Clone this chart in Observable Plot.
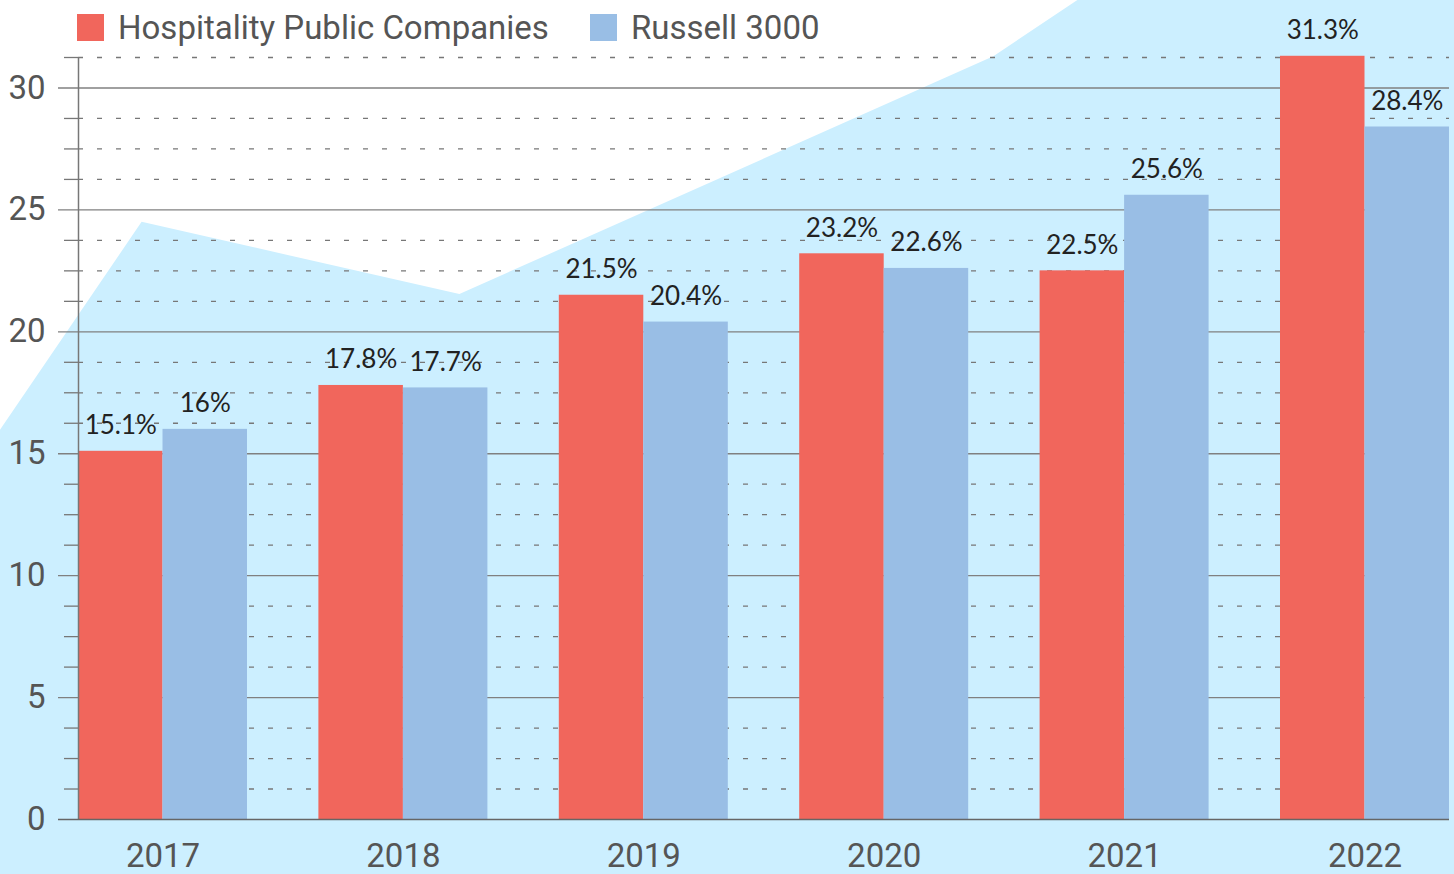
<!DOCTYPE html>
<html>
<head>
<meta charset="utf-8">
<script src="https://cdn.jsdelivr.net/npm/d3@7"></script>
<script src="https://cdn.jsdelivr.net/npm/@observablehq/plot@0.6"></script>
<style>
  html, body { margin: 0; padding: 0; background: #ffffff; }
  #wrap { position: relative; width: 1454px; height: 874px; overflow: hidden; }
  #legend { position: absolute; left: 0; top: 0; width: 1454px; height: 56px; font-family: Roboto, "Noto Sans", sans-serif; font-size: 33px; color: #555; }
  .item { position: absolute; top: 14px; height: 27px; display: flex; align-items: center; white-space: nowrap; }
  .sw { width: 27px; height: 27px; margin-right: 14px; flex: none; }
</style>
</head>
<body>
<div id="wrap">
  <div id="chart"></div>
  <div id="legend"></div>
</div>
<script>
// ---- data ----
const years = [2017, 2018, 2019, 2020, 2021, 2022];
const hospitality = [15.1, 17.8, 21.5, 23.2, 22.5, 31.3];
const russell = [16, 17.7, 20.4, 22.6, 25.6, 28.4];
const seriesNames = ["Hospitality Public Companies", "Russell 3000"];
const seriesColors = ["#F1665C", "#99BEE5"];
const majorTicks = [0, 5, 10, 15, 20, 25, 30];
const minorTicks = [1.25, 2.5, 3.75, 6.25, 7.5, 8.75, 11.25, 12.5, 13.75, 16.25, 17.5, 18.75, 21.25, 22.5, 23.75, 26.25, 27.5, 28.75, 31.25];
// decorative backdrop outline (year, value)
const backdropYears = [2016.3, 2016.324, 2016.913, 2018.235, 2020.456, 2020.809, 2022.6];
const backdropValues = [15.6, 15.96, 24.49, 21.53, 31.28, 33.61, 45.4];

// ---- tables ----
const rows = [];
years.forEach((y, i) => {
  rows.push({year: y, s: 0, value: hospitality[i]});
  rows.push({year: y, s: 1, value: russell[i]});
});
const backdrop = backdropYears.map((x, i) => ({x, v: backdropValues[i]}));

const hw = 0.3515; // half group width in year units
const xmin = years[0] - hw, xmax = years[years.length - 1] + hw;
const bx1 = d => d.s === 0 ? d.year - hw : d.year;
const bx2 = d => d.s === 0 ? d.year : d.year + hw;
const bxc = d => d.s === 0 ? d.year - hw / 2 : d.year + hw / 2;

const chart = Plot.plot({
  width: 1454,
  height: 874,
  marginLeft: 78,
  marginRight: 5,
  marginTop: 57,
  marginBottom: 55,
  style: {background: "transparent", fontFamily: "Roboto, 'Noto Sans', sans-serif", overflow: "hidden"},
  x: {domain: [xmin, xmax], axis: null},
  y: {domain: [0, 31.25], axis: null},
  marks: [
    Plot.area(backdrop, {x1: "x", y1: () => -4, y2: "v", fill: "#CCEFFF", curve: "linear"}),
    Plot.ruleY(minorTicks, {stroke: "#777", strokeWidth: 1.3, strokeDasharray: "5,14"}),
    Plot.ruleY(majorTicks.filter(t => t > 0), {stroke: "#808080", strokeWidth: 1.3, insetLeft: -20}),
    Plot.rectY(rows, {x1: bx1, x2: bx2, y: "value", fill: d => seriesColors[d.s]}),
    Plot.ruleX([xmin], {y1: 0, y2: 31.25, stroke: "#777", strokeWidth: 1.5}),
    Plot.ruleY([0], {stroke: "#666", strokeWidth: 1.6, insetLeft: -20}),
    Plot.axisY(minorTicks, {tickSize: 14, tickFormat: () => "", label: null, stroke: "#777", strokeWidth: 1.3}),
    Plot.axisY(majorTicks, {tickSize: 0, tickPadding: 33, label: null, fontSize: 33, fill: "#555"}),
    Plot.axisX(years, {tickSize: 0, tickPadding: 24, label: null, tickFormat: d => String(d), fontSize: 33, fill: "#555"}),
    Plot.text(rows, {x: bxc, y: "value", text: d => `${d.value}%`, dy: -17, lineAnchor: "bottom",
      fontSize: 26, fontFamily: "Lato, Roboto, sans-serif", fill: "#222"})
  ]
});
document.getElementById("chart").appendChild(chart);

// legend
const legend = document.getElementById("legend");
const lefts = [77, 590];
seriesNames.forEach((name, i) => {
  const it = document.createElement("div");
  it.className = "item";
  it.style.left = lefts[i] + "px";
  const sw = document.createElement("span");
  sw.className = "sw";
  sw.style.background = seriesColors[i];
  const tx = document.createElement("span");
  tx.textContent = name;
  it.appendChild(sw);
  it.appendChild(tx);
  legend.appendChild(it);
});
</script>
</body>
</html>
